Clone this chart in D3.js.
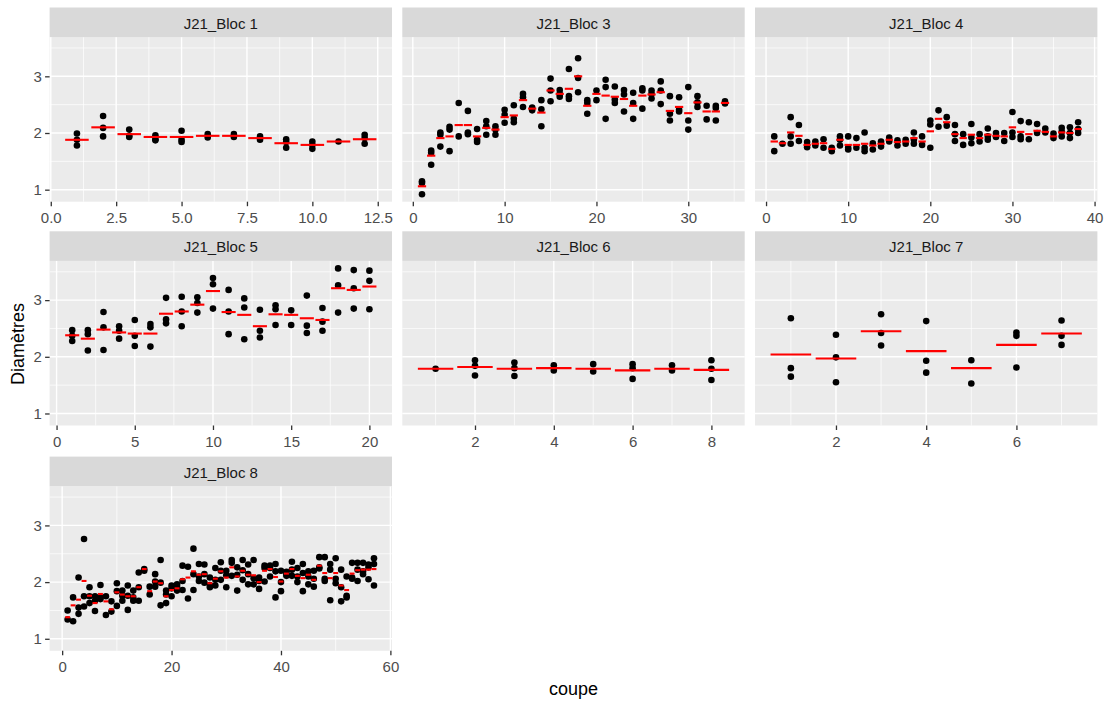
<!DOCTYPE html>
<html><head><meta charset="utf-8">
<script src="https://cdn.jsdelivr.net/npm/d3@7"></script>
<style>
body{margin:0;background:#fff}
text{font-family:"Liberation Sans",Arial,Helvetica,sans-serif}
</style>
</head><body>
<svg id="c" width="1108" height="702"></svg>
<script>
// ---------------- DATA ----------------
const panelNames = ["J21_Bloc 1","J21_Bloc 3","J21_Bloc 4","J21_Bloc 5","J21_Bloc 6","J21_Bloc 7","J21_Bloc 8"];
const xTitle = "coupe";
const yTitle = "Diamètres";
const yBreaks = [1,2,3];

// values per coupe (index 0 -> coupe 1)
const bloc1Values = [[1.99,1.88,1.78],[2.30,2.09,1.94],[2.06,1.95,1.93],[1.96,1.89,1.87],[2.04,1.88,1.84],[1.98,1.92],[1.98,1.93],[1.94,1.88],[1.89,1.84,1.74],[1.85,1.79,1.72],[1.85],[1.97,1.91,1.81]];
const bloc1Means = [1.88,2.10,1.98,1.93,1.93,1.95,1.95,1.91,1.82,1.79,1.85,1.89];
const bloc1Breaks = [0,2.5,5,7.5,10,12.5];

const bloc3Values = [[1.15,1.12,0.92],[1.69,1.65,1.44],[2.01,1.97,1.76],[2.11,2.06,1.68],[2.53,1.94],[2.39,2.01,1.98],[2.07,1.88,1.84],[2.21,2.12,1.97],[2.12,2.06,1.97],[2.41,2.32,2.18],[2.49,2.25,2.19],[2.69,2.63,2.46],[2.45,2.40],[2.58,2.42,2.12],[2.96,2.75,2.56],[2.76,2.69,2.64],[3.13,2.65,2.60],[3.32,2.97,2.72],[2.58,2.53,2.34],[2.75,2.58],[2.94,2.81,2.25],[2.82,2.59,2.53],[2.76,2.68,2.38],[2.71,2.53,2.25],[2.79,2.75,2.43],[2.75,2.69,2.61],[2.91,2.75,2.51],[2.65,2.34,2.22],[2.63,2.41,2.38],[2.81,2.22,2.06],[2.65,2.54,2.46],[2.48,2.24],[2.48,2.44,2.22],[2.56,2.52]];
const bloc3Means = [1.06,1.60,1.91,1.94,2.14,2.14,1.94,2.09,2.06,2.28,2.31,2.58,2.43,2.36,2.75,2.69,2.78,3.00,2.48,2.69,2.66,2.64,2.60,2.48,2.66,2.68,2.72,2.39,2.46,2.35,2.54,2.38,2.38,2.53];
const bloc3Breaks = [0,10,20,30];

const bloc4Values = [[1.94,1.68],[1.81],[2.28,1.94,1.81],[2.14,1.86],[1.84,1.75],[1.85,1.78],[1.89,1.74],[1.74,1.68],[1.94,1.88,1.78],[1.94,1.74,1.71],[1.91,1.74],[2.01,1.74,1.68],[1.82,1.71],[1.85,1.76],[1.92,1.85],[1.87,1.78],[1.88,1.81],[2.01,1.88,1.81],[1.94,1.79],[2.22,2.15,1.74],[2.40,2.11],[2.28,2.13],[2.14,1.98,1.86],[1.98,1.79],[2.16,1.92,1.82],[1.98,1.85],[2.08,1.94,1.88],[2.00,1.93],[2.00,1.86],[2.37,2.01,1.93],[2.21,1.94,1.89],[2.19,1.89],[2.16,2.00],[2.08,2.01],[1.99,1.91],[2.09,2.02,1.94],[2.10,2.00,1.91],[2.19,2.07,2.00]];
const bloc4Means = [1.85,1.82,2.01,1.95,1.79,1.81,1.82,1.72,1.88,1.79,1.79,1.81,1.78,1.81,1.88,1.84,1.85,1.91,1.85,2.03,2.25,2.19,1.98,1.91,1.97,1.91,1.97,1.95,1.94,2.10,2.02,1.98,2.04,2.02,1.94,2.01,2.00,2.07];
const bloc4Breaks = [0,10,20,30,40];

const bloc5Values = [[2.47,2.37,2.28],[2.47,2.40,2.11],[2.79,2.52,2.12],[2.54,2.46,2.32],[2.65,2.37,2.19],[2.58,2.52,2.18],[3.04,2.66,2.59],[3.06,2.80,2.54],[3.05,2.95,2.78],[3.39,3.28,2.85],[3.18,2.80,2.40],[3.03,2.87,2.31],[2.83,2.46,2.34],[2.91,2.84,2.56],[2.82,2.56],[3.08,2.55,2.42],[2.86,2.62,2.46],[3.56,3.26,2.78],[3.53,3.21,2.85],[3.52,3.34,2.84]];
const bloc5Means = [2.38,2.32,2.48,2.43,2.41,2.41,2.76,2.80,2.92,3.16,2.79,2.74,2.54,2.75,2.74,2.68,2.65,3.21,3.18,3.24];
const bloc5Breaks = [0,5,10,15,20];

const bloc6Values = [[1.79],[1.94,1.84,1.67],[1.90,1.80,1.66],[1.85,1.76],[1.87,1.74],[1.87,1.80,1.61],[1.85,1.76],[1.94,1.79,1.59]];
const bloc6Means = [1.79,1.82,1.79,1.80,1.79,1.76,1.79,1.77];
const bloc6Breaks = [2,4,6,8];

const bloc7Values = [[2.68,1.80,1.65],[2.39,1.99,1.55],[2.75,2.42,2.20],[2.63,1.93,1.72],[1.94,1.53],[2.43,2.37,1.81],[2.64,2.37,2.21]];
const bloc7Means = [2.04,1.97,2.45,2.10,1.80,2.21,2.41];
const bloc7Breaks = [2,4,6];

const bloc8Values = [[1.50,1.34],[1.73,1.31],[2.08,1.55,1.44],[2.76,1.75,1.57],[1.91,1.75,1.63],[1.75,1.67,1.49],[1.95,1.73,1.70],[1.75,1.42],[1.66,1.48],[1.98,1.84,1.58],[1.85,1.76,1.67],[1.94,1.76,1.51],[1.85,1.73,1.67],[2.17,1.91,1.67],[2.23,2.20],[1.92,1.78],[2.14,2.01,1.92],[2.39,1.99,1.59],[1.85,1.78,1.63],[1.94,1.89,1.75],[1.96,1.92,1.85],[2.29,2.02,1.86],[2.27,1.71],[2.59,2.14,1.86],[2.32,2.10,2.02],[2.31,2.14,1.99],[2.08,1.95,1.91],[2.25,2.04,1.94],[2.35,2.20,2.04],[2.20,2.12,1.91],[2.39,2.34,2.11],[2.26,2.13,1.85],[2.39,2.21,2.04],[2.31,2.14,1.96],[2.39,2.07,1.96],[2.08,2.02,1.88],[2.29,2.25,2.01],[2.29,2.25,2.10],[2.32,2.19,1.73],[2.20,2.00,1.84],[2.18,2.13,2.11],[2.36,2.22,2.11],[2.25,2.10,2.00],[2.32,2.16,1.84],[2.19,2.10,1.96],[2.20,2.06,1.92],[2.44,2.26,2.24],[2.44,2.06,2.02],[2.32,2.22,1.68],[2.42,2.06,1.98],[2.22,1.91,1.66],[2.10,1.76,1.73],[2.34,2.08,2.06],[2.34,2.22,2.02],[2.34,2.19,2.14],[2.31,2.26,2.05],[2.42,2.32,1.94]];
const bloc8Means = [1.38,1.59,1.69,2.02,1.76,1.63,1.79,1.66,1.52,1.82,1.78,1.75,1.75,1.91,2.23,1.84,2.01,1.98,1.75,1.86,1.89,2.05,2.08,2.19,2.13,2.14,1.98,2.06,2.19,2.08,2.26,2.10,2.20,2.13,2.12,2.00,2.20,2.23,2.09,2.01,2.15,2.23,2.11,2.07,2.13,2.04,2.29,2.16,2.07,2.16,1.94,1.86,2.15,2.21,2.22,2.22,2.23];
const bloc8Breaks = [0,20,40,60];

// ---------------- LAYOUT ----------------
const colLeft = [49.6, 402.3, 755];
const panelW = 342.4;
const stripTop = [7.5, 231.3, 456.6];
const stripH = 29.6;
const panelH = 164.6;

const panels = [
  {name: panelNames[0], values: bloc1Values, means: bloc1Means, breaks: bloc1Breaks, fmt: d3.format(".1f"), col: 0, row: 0},
  {name: panelNames[1], values: bloc3Values, means: bloc3Means, breaks: bloc3Breaks, fmt: d3.format("d"), col: 1, row: 0},
  {name: panelNames[2], values: bloc4Values, means: bloc4Means, breaks: bloc4Breaks, fmt: d3.format("d"), col: 2, row: 0},
  {name: panelNames[3], values: bloc5Values, means: bloc5Means, breaks: bloc5Breaks, fmt: d3.format("d"), col: 0, row: 1},
  {name: panelNames[4], values: bloc6Values, means: bloc6Means, breaks: bloc6Breaks, fmt: d3.format("d"), col: 1, row: 1},
  {name: panelNames[5], values: bloc7Values, means: bloc7Means, breaks: bloc7Breaks, fmt: d3.format("d"), col: 2, row: 1},
  {name: panelNames[6], values: bloc8Values, means: bloc8Means, breaks: bloc8Breaks, fmt: d3.format("d"), col: 0, row: 2}
];

const svg = d3.select("#c");
svg.append("rect").attr("width",1108).attr("height",702).attr("fill","#fff");

const half = 0.45; // crossbar half-width
function expand(lo, hi){ const d=(hi-lo)*0.05; return [lo-d, hi+d]; }
function minorsOf(breaks, dom){
  const step = breaks[1]-breaks[0];
  const out = [];
  for (let i=-1;i<breaks.length;i++){
    const m = breaks[0] + (i+0.5)*step;
    if (m>dom[0] && m<dom[1]) out.push(m);
  }
  return out;
}

// shared y domain
const allY = panels.flatMap(p => p.values.flat());
const yDom = expand(d3.min(allY), d3.max(allY));
const yMinor = minorsOf(yBreaks, yDom);

panels.forEach(p => {
  const left = colLeft[p.col];
  const top = stripTop[p.row] + stripH;
  const n = p.values.length;
  const xDom = expand(1 - half, n + half);
  const x = d3.scaleLinear().domain(xDom).range([0, panelW]);
  const y = d3.scaleLinear().domain(yDom).range([panelH, 0]);
  const xMinor = minorsOf(p.breaks, xDom);

  const g = svg.append("g").attr("transform", `translate(${left},${top})`);
  g.append("rect").attr("width", panelW).attr("height", panelH).attr("fill", "#EBEBEB");

  // minor grid
  g.selectAll(".ymin").data(yMinor).join("line")
    .attr("x1",0).attr("x2",panelW).attr("y1",d=>y(d)).attr("y2",d=>y(d))
    .attr("stroke","#fff").attr("stroke-width",0.7);
  g.selectAll(".xmin").data(xMinor).join("line")
    .attr("y1",0).attr("y2",panelH).attr("x1",d=>x(d)).attr("x2",d=>x(d))
    .attr("stroke","#fff").attr("stroke-width",0.7);
  // major grid
  g.selectAll(".ymaj").data(yBreaks).join("line")
    .attr("x1",0).attr("x2",panelW).attr("y1",d=>y(d)).attr("y2",d=>y(d))
    .attr("stroke","#fff").attr("stroke-width",1.4);
  g.selectAll(".xmaj").data(p.breaks.filter(b=>b>=xDom[0]&&b<=xDom[1])).join("line")
    .attr("y1",0).attr("y2",panelH).attr("x1",d=>x(d)).attr("x2",d=>x(d))
    .attr("stroke","#fff").attr("stroke-width",1.4);

  // points
  const pts = p.values.flatMap((vals,i) => vals.map(v => ({c: i+1, v})));
  g.append("g").selectAll("circle").data(pts).join("circle")
    .attr("cx", d=>x(d.c)).attr("cy", d=>y(d.v)).attr("r", 3.3).attr("fill", "#000");

  // mean crossbars
  g.append("g").selectAll("line").data(p.means.map((m,i)=>({c:i+1, m}))).join("line")
    .attr("x1", d=>x(d.c-half)).attr("x2", d=>x(d.c+half))
    .attr("y1", d=>y(d.m)).attr("y2", d=>y(d.m))
    .attr("stroke", "#FF0000").attr("stroke-width", 2.1);

  // strip
  const s = svg.append("g").attr("transform", `translate(${left},${stripTop[p.row]})`);
  s.append("rect").attr("width", panelW).attr("height", stripH).attr("fill", "#D9D9D9");
  s.append("text").attr("x", panelW/2).attr("y", 21).attr("text-anchor","middle")
    .attr("font-size", 15).attr("fill", "#1A1A1A").text(p.name);

  // x axis
  const xa = g.append("g").attr("transform", `translate(0,${panelH})`)
    .call(d3.axisBottom(x).tickValues(p.breaks.filter(b=>b>=xDom[0]&&b<=xDom[1])).tickFormat(p.fmt).tickSize(4.5).tickPadding(6.3));
  xa.select(".domain").remove();
  xa.selectAll(".tick line").attr("stroke","#333333").attr("stroke-width",1.3);
  xa.selectAll(".tick text").attr("fill","#4D4D4D").attr("font-size",15)
    .attr("font-family",'"Liberation Sans",Arial,sans-serif');

  // y axis (left column only)
  if (p.col === 0){
    const ya = g.append("g")
      .call(d3.axisLeft(y).tickValues(yBreaks).tickFormat(d3.format("d")).tickSize(4.5).tickPadding(3.2));
    ya.select(".domain").remove();
    ya.selectAll(".tick line").attr("stroke","#333333").attr("stroke-width",1.3);
    ya.selectAll(".tick text").attr("fill","#4D4D4D").attr("font-size",15)
      .attr("font-family",'"Liberation Sans",Arial,sans-serif');
  }
});

// axis titles
svg.append("text").attr("x", (colLeft[0] + colLeft[2] + panelW)/2).attr("y", 695)
  .attr("text-anchor","middle").attr("font-size",18).attr("fill","#000").text(xTitle);
svg.append("text").attr("transform","translate(24,344) rotate(-90)")
  .attr("text-anchor","middle").attr("font-size",18).attr("fill","#000").text(yTitle);
</script>
</body></html>
